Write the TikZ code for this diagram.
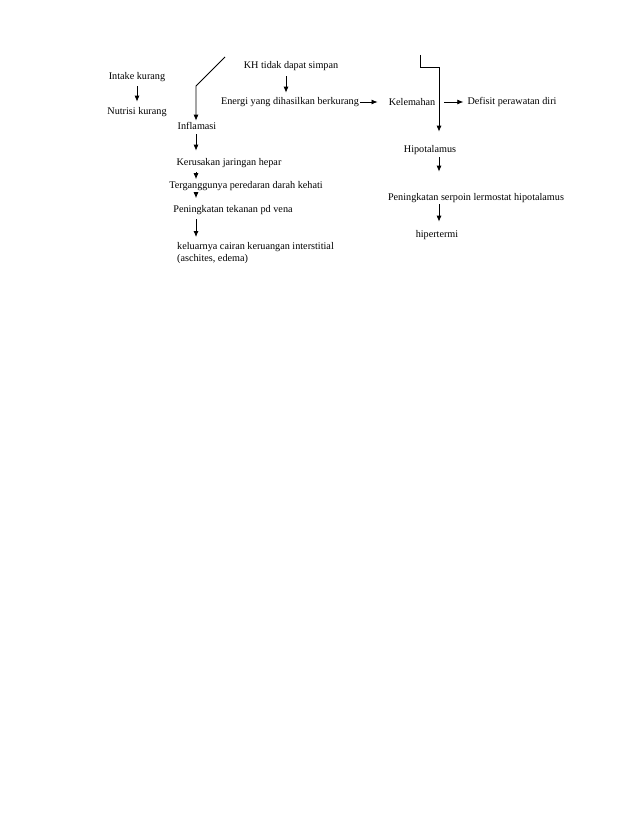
\documentclass[tikz,border=0pt]{standalone}
\usepackage{fontspec}
\setmainfont{Liberation Serif}
\usetikzlibrary{arrows.meta,calc}

\begin{document}
\begin{tikzpicture}[
    x=1pt, y=-1pt,
    txt/.style={inner sep=1pt, font=\fontsize{10.2}{11.5}\selectfont, text=black},
    arr/.style={-{Latex[length=6pt,width=5pt]}, line width=0.8pt},
    line/.style={line width=0.8pt}
]
\useasboundingbox (0,0) rectangle (638,826);

% Left chain
\node[txt] (intake) at (137,77) {Intake kurang};
\node[txt] (nutrisi) at (137,112) {Nutrisi kurang};
\node[txt] (inflamasi) at (197,126) {Inflamasi};
\node[txt] (kerusakan) at (229,163) {Kerusakan jaringan hepar};
\node[txt] (terganggu) at (246,186) {Terganggunya peredaran darah kehati};
\node[txt] (tekanan) at (233,210) {Peningkatan tekanan pd vena};
\node[txt, anchor=north west, align=left] (keluar) at (176,241.5) {keluarnya cairan keruangan interstitial\\ (aschites, edema)};

% Middle chain
\node[txt] (kh) at (291,66) {KH tidak dapat simpan};
\node[txt] (energi) at (290,102) {Energi yang dihasilkan berkurang};
\node[txt] (kelemahan) at (412,102) {Kelemahan};
\node[txt] (defisit) at (512,102) {Defisit perawatan diri};

% Right chain
\node[txt] (hipo) at (430,150) {Hipotalamus};
\node[txt] (serpoin) at (476,198) {Peningkatan serpoin lermostat hipotalamus};
\node[txt] (hipertermi) at (437,235) {hipertermi};

% Free ends of the connectors
\coordinate (diagtop) at (225,57);
\coordinate (spine) at (196,86);
\coordinate (bracktop) at (420,55);
\coordinate (brackturn) at (439,67);
\coordinate (khx) at (286,0);

% Arrows
\draw[arr, shorten <=3.5pt, shorten >=4.5pt] (intake) -- (nutrisi);
\draw[arr, shorten >=0.5pt] (diagtop) -- (spine) -- (inflamasi.north -| spine);
\draw[arr, shorten <=3.5pt, shorten >=6.5pt] (inflamasi.south -| spine) -- (kerusakan.north -| spine);
\draw[arr, shorten <=3pt, shorten >=1pt] (kerusakan.south -| spine) -- (terganggu.north -| spine);
\draw[arr, shorten >=6pt] (terganggu.south -| spine) -- (tekanan.north -| spine);
\draw[arr, shorten <=3.5pt, shorten >=4.5pt] (tekanan.south -| spine) -- (keluar.north -| spine);

\draw[arr, shorten <=4.5pt, shorten >=3.5pt] (kh.south -| khx) -- (energi.north -| khx);
\draw[arr, shorten >=10pt] (energi) -- (kelemahan);
\draw[arr, shorten <=8pt, shorten >=3pt] (kelemahan) -- (defisit);

\draw[arr, shorten >=12.5pt] (bracktop) |- (brackturn) -- (hipo.north -| brackturn);
\draw[arr, shorten <=1.5pt, shorten >=20.5pt] (hipo.south -| brackturn) -- (serpoin.north -| brackturn);
\draw[arr, shorten <=0.5pt, shorten >=7.5pt] (serpoin.south -| brackturn) -- (hipertermi.north -| brackturn);

\end{tikzpicture}
\end{document}
